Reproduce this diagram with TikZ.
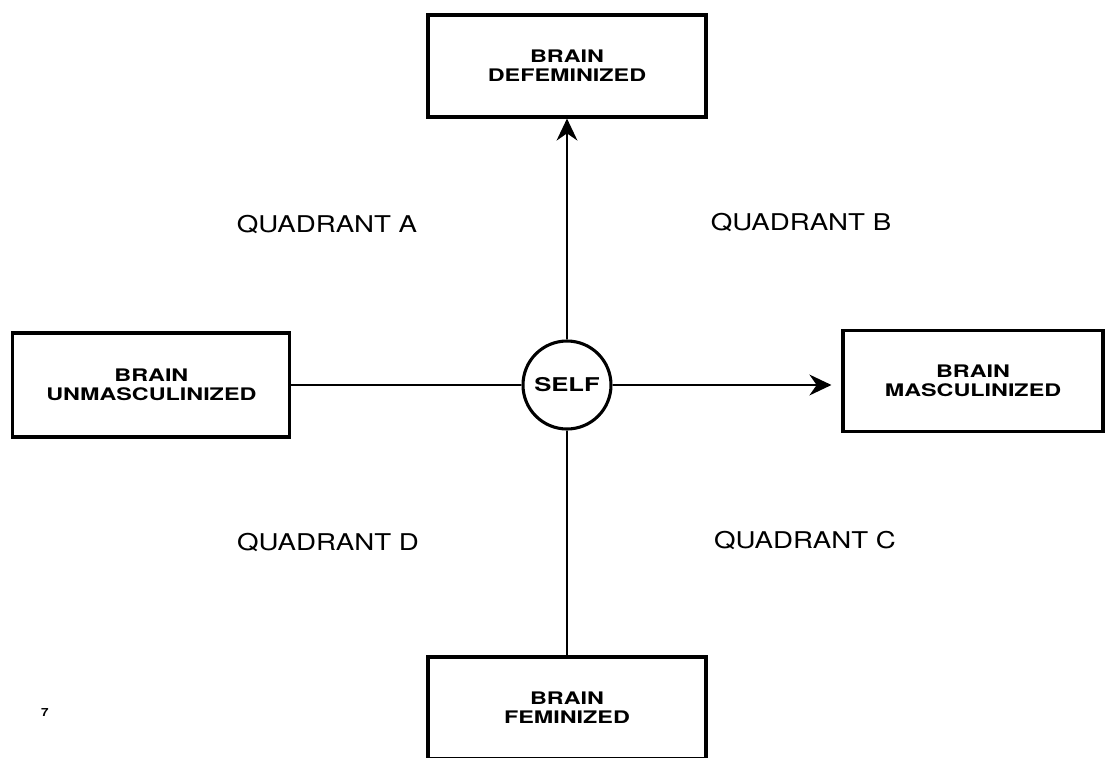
\documentclass[tikz,border=0pt]{standalone}
\usepackage{fontspec}
\newfontfamily\diagfont[FakeStretch=1.2]{TeX Gyre Heros}
\newfontfamily\diagwide[FakeStretch=1.35]{TeX Gyre Heros}
\usetikzlibrary{arrows.meta, positioning}

\begin{document}
\begin{tikzpicture}[
    node distance=8cm,
    on grid,
    every node/.style={inner sep=0pt},
    brainbox/.style={draw=black, line width=2.2pt, minimum width=6.95cm, minimum height=2.55cm, align=center, font=\diagwide\bfseries\fontsize{12.3}{13.5}\selectfont},
    selfnode/.style={circle, draw=black, line width=2.2pt, minimum size=2.2cm, font=\diagwide\bfseries\fontsize{13.5}{15}\selectfont},
    quadrant/.style={font=\diagfont\fontsize{16.4}{18}\selectfont},
    axis/.style={line width=1.8pt},
    tip/.style={-{Stealth[length=5.5mm, width=5.2mm, inset=1.8mm]}}
]
   \useasboundingbox (-14.175,-9.3) rectangle (13.65,9.625);

   % Self and the four brains
   \node[selfnode] (self) at (0,0) {SELF};
   \node[brainbox] (defem) [above=7.975cm of self] {BRAIN\\DEFEMINIZED};
   \node[brainbox, minimum width=6.925cm, minimum height=2.6cm] (unmasc) [left=10.39cm of self] {BRAIN\\UNMASCULINIZED};
   \node[brainbox, minimum width=6.5cm, minimum height=2.525cm, yshift=0.11cm] (masc) [right=10.15cm of self] {BRAIN\\MASCULINIZED};
   \node[brainbox] (fem) [below=8.075cm of self] {BRAIN\\FEMINIZED};

   % Quadrants
   \node[quadrant] (quadA) at (-6.0,4.0) {QUADRANT A};
   \node[quadrant] (quadB) at (5.85,4.05) {QUADRANT B};
   \node[quadrant] (quadD) at (-5.975,-3.95) {QUADRANT D};
   \node[quadrant] (quadC) at (5.95,-3.9) {QUADRANT C};

   \node[font=\diagfont\bfseries\fontsize{8}{9}\selectfont] (pagenum) at (-13.05,-8.2) {7};

   % Axes
   \draw[axis, tip] (self) -- (defem);
   \draw[axis, tip, shorten >=2.5mm] (self) -- (self -| masc.west);
   \draw[axis] (unmasc) -- (self);
   \draw[axis] (fem) -- (self);
\end{tikzpicture}
\end{document}
